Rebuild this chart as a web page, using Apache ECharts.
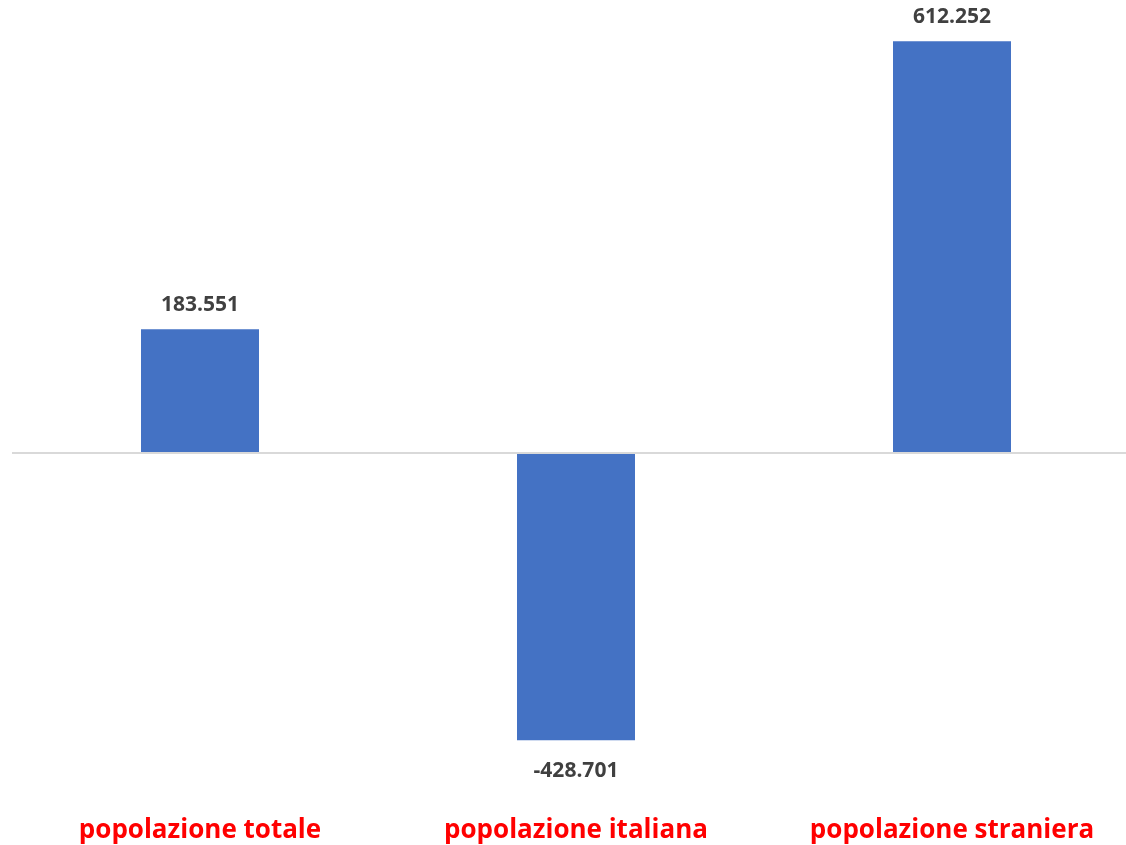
<!DOCTYPE html>
<html lang="it">
<head>
    <meta charset="UTF-8">
    <title>Variazione popolazione</title>
    <script type="text/javascript" src="https://cdn.jsdelivr.net/npm/echarts@6/dist/echarts.min.js"></script>
    <style>
        html, body { margin: 0; padding: 0; background: #fff; }
    </style>
</head>
<body>
<div id="main" style="width: 1126px; height: 845px;"></div>
<script type="text/javascript">
    var categories = ['popolazione totale', 'popolazione italiana', 'popolazione straniera'];
    var values = [183551, -428701, 612252];

    // formato italiano: 183.551
    function fmt(v) {
        var s = String(Math.abs(v)).replace(/\B(?=(\d{3})+(?!\d))/g, '.');
        return (v < 0 ? '-' : '') + s;
    }

    var myChart = echarts.init(document.getElementById('main'));
    var option = {
        animation: false,
        grid: {
            left: 12,
            right: -14,
            top: 16,
            height: 772,
            outerBoundsMode: 'none',
            containLabel: false
        },
        xAxis: {
            type: 'category',
            data: categories,
            axisLine: { show: false, onZero: false },
            axisTick: { show: false },
            axisLabel: {
                margin: 30,
                color: '#ff0000',
                fontFamily: 'Open Sans',
                fontWeight: 'bold',
                fontSize: 26
            }
        },
        yAxis: {
            type: 'value',
            min: -500000,
            max: 650000,
            show: false,
            splitLine: { show: false }
        },
        series: [
            {
                type: 'bar',
                barWidth: 118,
                itemStyle: { color: '#4472c4' },
                label: {
                    show: true,
                    position: 'top',
                    distance: 14,
                    color: '#404040',
                    fontFamily: 'Open Sans',
                    fontWeight: 'bold',
                    fontSize: 21,
                    formatter: function (p) { return fmt(p.value); }
                },
                markLine: {
                    silent: true,
                    symbol: 'none',
                    label: { show: false },
                    lineStyle: { color: '#d9d9d9', width: 2, type: 'solid' },
                    data: [{ yAxis: 0 }]
                },
                // etichetta sotto la barra per i valori negativi
                data: values.map(function (v) {
                    return v < 0 ? { value: v, label: { position: 'bottom', distance: 20 } } : v;
                })
            }
        ]
    };
    myChart.setOption(option);
</script>
</body>
</html>
